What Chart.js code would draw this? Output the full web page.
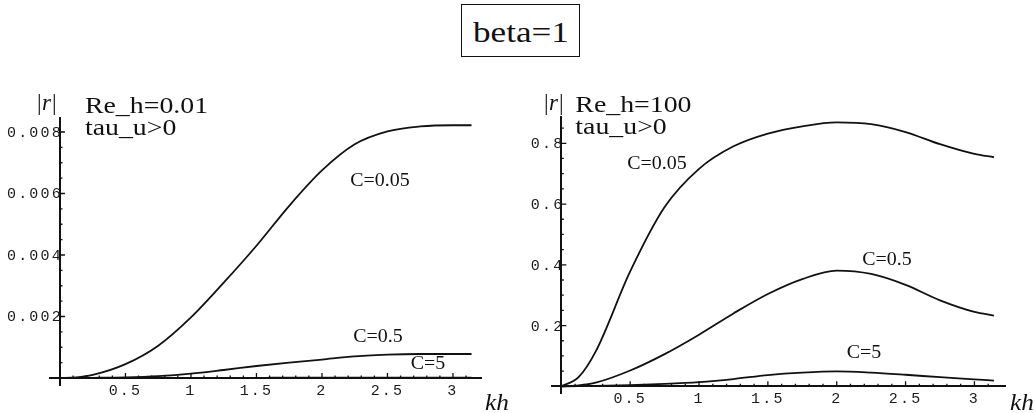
<!DOCTYPE html>
<html>
<head>
<meta charset="utf-8">
<script src="https://cdn.jsdelivr.net/npm/chart.js@4/dist/chart.umd.min.js"></script>
<style>
  html, body { margin: 0; padding: 0; background: #fff; }
  body { width: 1036px; height: 413px; position: relative; overflow: hidden; }
  #title {
    position: absolute; left: 461px; top: 4px; width: 117px; height: 51px;
    border: 1.6px solid #111; color: #111;
    font-family: "Liberation Serif", "Times New Roman", serif; font-size: 30px;
    line-height: 53px; text-align: center;
  }
  #title span { display: inline-block; transform: scaleX(1.17); }
  .pane { position: absolute; top: 0; width: 518px; height: 413px; }
</style>
</head>
<body>
<div id="title"><span>beta=1</span></div>
<div class="pane" style="left:0"><canvas id="leftChart" width="518" height="413"></canvas></div>
<div class="pane" style="left:518px"><canvas id="rightChart" width="518" height="413"></canvas></div>

<script>
// wavenumber samples kh (last point is pi)
const kh = [0, 0.125, 0.25, 0.5, 0.75, 1, 1.25, 1.5, 1.75, 2, 2.25, 2.5, 2.75, 3, 3.1416];

// |r| for Re_h = 0.01
const low_C005 = [0, 0.00002, 0.0001, 0.00045, 0.00105, 0.00197, 0.0031, 0.0043, 0.0056, 0.00675, 0.0076, 0.00802, 0.00818, 0.00822, 0.00822];
const low_C05  = [0, 0, 0.000005, 0.00002, 0.00006, 0.00014, 0.00026, 0.00039, 0.0005, 0.0006, 0.0007, 0.00076, 0.00078, 0.00078, 0.00078];
const low_C5   = [0, 0, 0, 0.000001, 0.000002, 0.000003, 0.000005, 0.000006, 0.000008, 0.000009, 0.00001, 0.00001, 0.00001, 0.00001, 0.00001];

// |r| for Re_h = 100
const high_C005 = [0, 0.03, 0.115, 0.378, 0.59, 0.716, 0.79, 0.832, 0.856, 0.869, 0.863, 0.837, 0.797, 0.765, 0.754];
const high_C05  = [0, 0.003, 0.012, 0.052, 0.106, 0.17, 0.24, 0.304, 0.353, 0.381, 0.37, 0.334, 0.283, 0.245, 0.233];
const high_C5   = [0, 0.0003, 0.001, 0.004, 0.008, 0.014, 0.024, 0.037, 0.045, 0.049, 0.045, 0.038, 0.03, 0.023, 0.019];

// axis tick values
const xTicks = [0.5, 1, 1.5, 2, 2.5, 3];
const lowYTicks = [0.002, 0.004, 0.006, 0.008];
const highYTicks = [0.2, 0.4, 0.6, 0.8];

const SERIF = '"Liberation Serif", "Times New Roman", serif';
const MONO = '"Liberation Mono", "Courier New", monospace';
const INK = '#111';
const SPACING = '2.2px';

function series(values) {
  return {
    data: kh.map((x, i) => ({ x: x, y: values[i] })),
    borderColor: INK,
    borderWidth: 1.8,
    pointRadius: 0,
    fill: false,
    cubicInterpolationMode: 'monotone'
  };
}

function drawText(ctx, s, x, y, font, align, sx) {
  ctx.save();
  ctx.font = font;
  ctx.fillStyle = INK;
  ctx.textAlign = align || 'left';
  ctx.textBaseline = 'alphabetic';
  ctx.translate(x, y);
  ctx.scale(sx || 1, 1);
  ctx.fillText(s, 0, 0);
  ctx.restore();
}

// tick marks, y tick labels, the |r| / kh axis names and the panel notes
function decor(cfg) {
  return {
    id: 'decor',
    beforeDraw(chart) {
      chart.ctx.letterSpacing = SPACING;
    },
    afterDraw(chart) {
      const ctx = chart.ctx;
      const xs = chart.scales.x, ys = chart.scales.y;
      const x0 = xs.getPixelForValue(0), y0 = ys.getPixelForValue(0);
      ctx.save();
      ctx.letterSpacing = '0px';
      ctx.strokeStyle = INK;
      ctx.lineWidth = 1.3;
      ctx.beginPath();
      for (let i = 1; i <= 31; i++) {
        const v = i / 10;
        const major = i % 5 === 0;
        const px = xs.getPixelForValue(v);
        ctx.moveTo(px, y0);
        ctx.lineTo(px, y0 - (major ? 5 : 2.5));
      }
      const step = cfg.yStep / 4;
      for (let i = 1; i * step <= ys.max; i++) {
        const v = i * step;
        const major = i % 4 === 0;
        const py = ys.getPixelForValue(v);
        ctx.moveTo(x0, py);
        ctx.lineTo(x0 + (major ? 5 : 2.5), py);
      }
      ctx.stroke();

      // y tick labels, right-aligned against the axis
      ctx.save();
      ctx.letterSpacing = SPACING;
      ctx.font = '15px ' + MONO;
      ctx.fillStyle = '#1a1a1a';
      ctx.textAlign = 'right';
      ctx.textBaseline = 'middle';
      cfg.yTicks.forEach(v => {
        ctx.fillText(cfg.yFmt(v), x0 + 3, ys.getPixelForValue(v) + 1);
      });
      ctx.restore();

      // axis names
      const f = '23px ' + SERIF;
      const fi = 'italic 23px ' + SERIF;
      drawText(ctx, '|', cfg.rX - 9, cfg.rY, f);
      drawText(ctx, 'r', cfg.rX - 4, cfg.rY, fi);
      drawText(ctx, '|', cfg.rX + 6, cfg.rY, f);
      drawText(ctx, 'kh', cfg.khX, 410, 'italic 24px ' + SERIF, 'center', 1.05);

      // panel notes
      drawText(ctx, cfg.note1, x0 + cfg.noteDx, cfg.noteY, '23px ' + SERIF, 'left', 1.21);
      drawText(ctx, 'tau_u>0', x0 + cfg.noteDx, cfg.noteY + 22, '23px ' + SERIF, 'left', 1.21);

      // curve labels placed in data coordinates
      cfg.labels.forEach(l => {
        drawText(ctx, l.text, xs.getPixelForValue(l.x), ys.getPixelForValue(l.y) + 6,
          '19px ' + SERIF, 'center', 1.05);
      });
      ctx.restore();
    }
  };
}

function makeChart(id, sets, bounds, pad, cfg) {
  return new Chart(document.getElementById(id), {
    type: 'line',
    data: { datasets: sets.map(series) },
    options: {
      responsive: false,
      animation: false,
      devicePixelRatio: 1,
      layout: { padding: pad },
      plugins: { legend: { display: false }, tooltip: { enabled: false } },
      scales: {
        x: {
          type: 'linear',
          min: bounds.xmin, max: bounds.xmax,
          position: { y: 0 },
          grid: { display: false },
          border: { display: true, color: INK, width: 2 },
          afterBuildTicks: s => { s.ticks = xTicks.map(v => ({ value: v })); },
          ticks: {
            autoSkip: false, maxRotation: 0, padding: -4, color: '#1a1a1a',
            font: { family: MONO, size: 15 },
            callback: v => String(v)
          }
        },
        y: {
          type: 'linear',
          min: bounds.ymin, max: bounds.ymax,
          position: { x: 0 },
          grid: { display: false },
          border: { display: true, color: INK, width: 2 },
          afterBuildTicks: s => { s.ticks = cfg.yTicks.map(v => ({ value: v })); },
          ticks: { display: false }
        }
      }
    },
    plugins: [decor(cfg)]
  });
}

makeChart('leftChart', [low_C005, low_C05, low_C5],
  { xmin: -0.076, xmax: 3.214, ymin: -0.000228, ymax: 0.008455 },
  { left: 50, right: 37, top: 118, bottom: 28 },
  {
    yTicks: lowYTicks, yFmt: v => v.toFixed(3), yStep: 0.002,
    rX: 46, rY: 110, khX: 497, noteDx: 25, noteY: 113, note1: 'Re_h=0.01',
    labels: [
      { text: 'C=0.05', x: 2.443, y: 0.00644 },
      { text: 'C=0.5', x: 2.427, y: 0.001366 },
      { text: 'C=5', x: 2.809, y: 0.000488 }
    ]
  });

makeChart('rightChart', [high_C005, high_C05, high_C5],
  { xmin: -0.07, xmax: 3.222, ymin: -0.023, ymax: 0.8875 },
  { left: 33.7, right: 31, top: 116.7, bottom: 19.7 },
  {
    yTicks: highYTicks, yFmt: v => v.toFixed(1), yStep: 0.2,
    rX: 35, rY: 110, khX: 504, noteDx: 14, noteY: 112, note1: 'Re_h=100',
    labels: [
      { text: 'C=0.05', x: 0.695, y: 0.735 },
      { text: 'C=0.5', x: 2.365, y: 0.419 },
      { text: 'C=5', x: 2.198, y: 0.1135 }
    ]
  });
</script>
</body>
</html>
